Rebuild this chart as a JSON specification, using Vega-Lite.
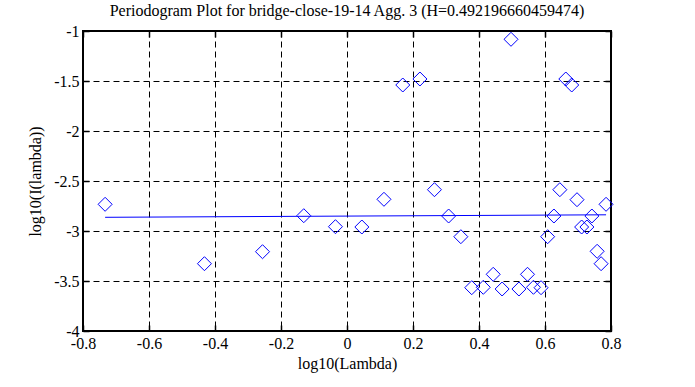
{
  "$schema": "https://vega.github.io/schema/vega-lite/v6.json",
  "width": 528,
  "height": 300,
  "autosize": {"type": "none"},
  "padding": {"left": 83, "top": 31, "right": 84, "bottom": 56},
  "background": "white",
  "config": {
    "font": "Liberation Serif",
    "view": {"stroke": "black", "strokeWidth": 2},
    "axis": {
      "labelFont": "Liberation Serif",
      "titleFont": "Liberation Serif",
      "labelFontSize": 16,
      "titleFontSize": 16,
      "labelColor": "black",
      "titleColor": "black",
      "titleFontWeight": "normal",
      "domain": false,
      "tickColor": "black",
      "tickSize": -6,
      "tickWidth": 1.5,
      "gridColor": "black",
      "gridDash": [6, 4],
      "gridOpacity": 1,
      "gridWidth": 1
    },
    "title": {"font": "Liberation Serif", "fontSize": 16, "fontWeight": "normal", "color": "black"}
  },
  "title": {"text": "Periodogram Plot for bridge-close-19-14 Agg. 3 (H=0.492196660459474)", "anchor": "middle", "offset": 4, "font": "Liberation Serif"},
  "datasets": {
    "points": [
      {"lambda": -0.733, "value": -2.733},
      {"lambda": -0.432, "value": -3.327},
      {"lambda": -0.256, "value": -3.207},
      {"lambda": -0.131, "value": -2.847},
      {"lambda": -0.035, "value": -2.957},
      {"lambda": 0.045, "value": -2.96},
      {"lambda": 0.112, "value": -2.683},
      {"lambda": 0.169, "value": -1.54},
      {"lambda": 0.221, "value": -1.48},
      {"lambda": 0.265, "value": -2.587},
      {"lambda": 0.308, "value": -2.85},
      {"lambda": 0.345, "value": -3.057},
      {"lambda": 0.378, "value": -3.567},
      {"lambda": 0.413, "value": -3.563},
      {"lambda": 0.443, "value": -3.433},
      {"lambda": 0.47, "value": -3.58},
      {"lambda": 0.497, "value": -1.083},
      {"lambda": 0.521, "value": -3.58},
      {"lambda": 0.547, "value": -3.433},
      {"lambda": 0.565, "value": -3.563},
      {"lambda": 0.588, "value": -3.567},
      {"lambda": 0.608, "value": -3.057},
      {"lambda": 0.627, "value": -2.85},
      {"lambda": 0.645, "value": -2.587},
      {"lambda": 0.663, "value": -1.48},
      {"lambda": 0.681, "value": -1.54},
      {"lambda": 0.697, "value": -2.687},
      {"lambda": 0.711, "value": -2.96},
      {"lambda": 0.727, "value": -2.96},
      {"lambda": 0.742, "value": -2.85},
      {"lambda": 0.758, "value": -3.203},
      {"lambda": 0.77, "value": -3.327},
      {"lambda": 0.785, "value": -2.733}
    ],
    "fit": [
      {"lambda": -0.733, "value": -2.863},
      {"lambda": 0.785, "value": -2.838}
    ]
  },
  "layer": [
    {
      "data": {"name": "points"},
      "mark": {"type": "point", "shape": "diamond", "size": 196, "filled": false, "stroke": "#0000ff", "strokeWidth": 1, "opacity": 1},
      "encoding": {
        "x": {
          "field": "lambda", "type": "quantitative",
          "scale": {"domain": [-0.8, 0.8], "nice": false, "zero": false},
          "axis": {"orient": "bottom", "title": "log10(Lambda)", "values": [-0.8, -0.6, -0.4, -0.2, 0, 0.2, 0.4, 0.6, 0.8], "labelExpr": "'' + datum.value", "labelFont": "Liberation Serif", "titleFont": "Liberation Serif", "labelPadding": 10, "titlePadding": 4, "labelFlush": false}
        },
        "y": {
          "field": "value", "type": "quantitative",
          "scale": {"domain": [-4, -1], "nice": false, "zero": false},
          "axis": {"orient": "left", "title": "log10(I(lambda))", "values": [-4, -3.5, -3, -2.5, -2, -1.5, -1], "labelExpr": "'' + datum.value", "labelFont": "Liberation Serif", "titleFont": "Liberation Serif", "labelPadding": 10, "titlePadding": 10, "labelFlush": false}
        }
      }
    },
    {
      "data": {"name": "fit"},
      "mark": {"type": "line", "color": "#0000ff", "strokeWidth": 1},
      "encoding": {
        "x": {
          "field": "lambda", "type": "quantitative",
          "axis": {"orient": "top", "title": null, "labels": false, "grid": false, "values": [-0.8, -0.6, -0.4, -0.2, 0, 0.2, 0.4, 0.6, 0.8]}
        },
        "y": {
          "field": "value", "type": "quantitative",
          "axis": {"orient": "right", "title": null, "labels": false, "grid": false, "values": [-4, -3.5, -3, -2.5, -2, -1.5, -1]}
        }
      }
    }
  ],
  "resolve": {"axis": {"x": "independent", "y": "independent"}}
}
